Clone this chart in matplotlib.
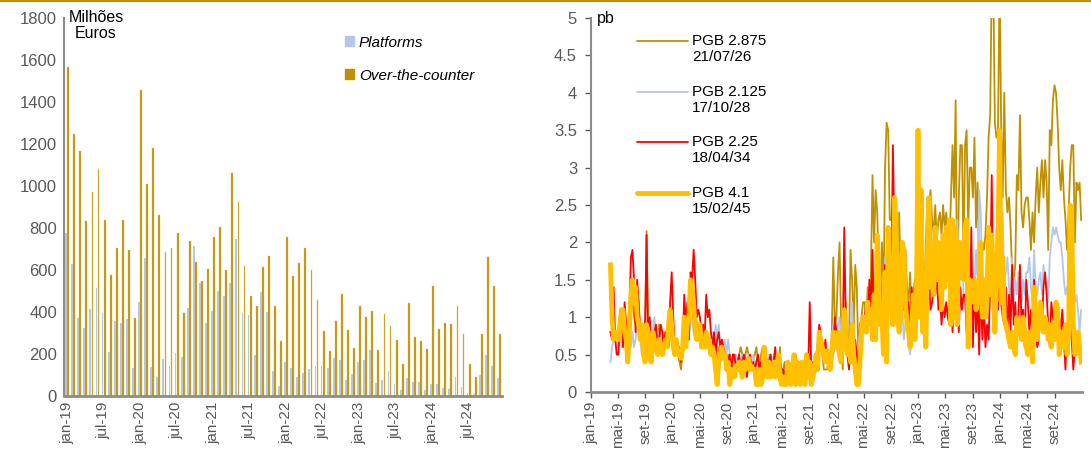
import matplotlib
matplotlib.use("Agg")
import matplotlib.pyplot as plt
from matplotlib.patches import Patch
from matplotlib.lines import Line2D
import numpy as np
import pandas as pd

plt.rcParams['font.family'] = ['Liberation Sans', 'DejaVu Sans']

# ---- left chart: monthly volumes (milhoes euros), jan-19 .. dez-24
platforms = [777, 630, 373, 322, 412, 514, 393, 209, 355, 346, 368, 135,
             449, 655, 136, 90, 174, 144, 203, 186, 417, 714, 539, 349,
             403, 498, 474, 536, 750, 395, 385, 197, 496, 400, 119, 48,
             160, 133, 89, 108, 130, 141, 143, 132, 179, 170, 78, 105,
             163, 170, 217, 60, 75, 117, 55, 27, 84, 65, 65, 27,
             57, 57, 38, 32, 89, 43, 14, 11, 98, 193, 144, 84]
otc = [1567, 1248, 1167, 833, 970, 1082, 840, 574, 706, 840, 693, 370,
       1459, 1010, 1183, 864, 687, 707, 774, 396, 736, 636, 550, 603,
       756, 807, 600, 1062, 923, 620, 474, 427, 612, 669, 427, 263,
       755, 572, 634, 703, 601, 455, 308, 212, 355, 488, 314, 230,
       427, 374, 404, 217, 389, 335, 268, 151, 442, 281, 260, 224,
       525, 320, 347, 344, 430, 293, 154, 89, 297, 660, 522, 293]
month_labels = ['jan-19', 'jul-19', 'jan-20', 'jul-20', 'jan-21', 'jul-21',
                'jan-22', 'jul-22', 'jan-23', 'jul-23', 'jan-24', 'jul-24']

# ---- right chart: weekly bid-ask spreads (pb), from 29/03/2019
start_date = '2019-03-29'
pgb_2875 = [0.8, 0.75, 0.7, 0.8, 0.7,
            0.7, 0.8, 1.0, 0.7, 0.9, 0.8, 0.6, 0.9, 1.1, 1.2, 1.0, 0.9, 1.1, 0.9, 0.7, 0.8, 0.7,
            0.7, 2.15, 0.8, 0.7, 0.6, 0.7, 0.9, 0.8, 0.6, 0.9, 0.7, 0.6, 0.8, 0.7, 0.6, 0.8, 0.9, 0.8,
            0.7, 0.6, 0.6, 0.5, 0.4, 0.3, 0.6, 0.8, 0.6, 0.8, 0.9, 1.2, 1.1, 1.0, 1.2, 0.8, 0.7,
            0.8, 0.7, 0.9, 0.6, 0.8, 0.7, 0.6, 0.5, 0.7, 0.6, 0.5, 0.4, 0.6, 0.5, 0.7, 0.5, 0.4, 0.4,
            0.5, 0.4, 0.3, 0.5, 0.4, 0.3, 0.4, 0.5, 0.6, 0.5, 0.4, 0.5, 0.6, 0.5, 0.4, 0.3, 0.4,
            0.5, 0.6, 0.4, 0.3, 0.5, 0.6, 0.4, 0.5, 0.3, 0.4, 0.5, 0.4, 0.3, 0.4, 0.5, 0.3, 0.6, 0.2,
            0.3, 0.4, 0.2, 0.3, 0.4, 0.3, 0.2, 0.4, 0.3, 0.2, 0.3, 0.4, 0.2, 0.3, 0.4, 0.3, 0.5,
            0.5, 0.3, 0.4, 0.3, 0.4, 0.5, 0.8, 0.6, 0.5, 0.3, 0.3, 0.3, 0.4, 0.5, 0.7, 1.8, 0.9,
            1.0, 1.6, 2.0, 0.9, 0.3, 0.8, 1.2, 0.7, 0.6, 1.9, 1.5, 0.8, 1.7, 1.4, 0.5, 0.9, 1.0, 1.2,
            1.2, 1.0, 1.4, 1.1, 1.6, 2.9, 2.0, 2.7, 2.4, 1.6, 1.3, 2.0, 1.2, 3.0, 3.6, 3.5, 2.3,
            2.3, 2.5, 1.8, 2.2, 1.6, 2.4, 1.5, 1.3, 1.6, 1.9, 1.4, 1.2, 1.6, 1.0, 1.3, 1.5, 1.4, 3.4,
            1.5, 1.8, 1.6, 1.3, 2.0, 2.6, 2.5, 2.7, 2.3, 2.1, 2.5, 2.0, 2.3, 2.4, 2.1, 2.5, 2.2,
            2.4, 2.1, 1.9, 2.6, 3.3, 2.6, 3.9, 1.0, 2.6, 3.3, 3.3, 1.8, 3.3, 3.5, 2.2, 3.0, 3.0,
            2.6, 3.4, 2.2, 2.8, 1.6, 1.8, 2.0, 1.9, 2.1, 2.6, 3.4, 3.7, 5.5, 5.5, 3.6, 3.4, 3.5, 5.5,
            3.6, 2.6, 4.0, 2.7, 2.4, 2.6, 2.2, 1.6, 1.5, 1.7, 2.9, 2.7, 3.7, 2.4, 2.2, 2.5, 2.6,
            2.6, 2.3, 1.9, 2.4, 2.0, 2.6, 3.0, 2.4, 2.8, 3.1, 2.6, 3.1, 2.8, 1.9, 3.5, 3.3, 3.9, 4.1,
            4.0, 3.6, 3.0, 2.7, 3.1, 2.6, 2.3, 1.9, 2.4, 3.0, 3.3, 3.3, 2.0, 2.8, 2.7, 2.8, 2.3]
pgb_2125 = [0.4, 0.6, 0.7, 0.7, 0.6,
            0.7, 0.8, 0.6, 0.7, 0.9, 0.6, 0.7, 0.8, 0.6, 0.8, 0.6, 0.7, 0.9, 0.8, 0.7, 0.5, 0.6,
            0.6, 0.9, 1.0, 0.7, 0.6, 0.8, 1.0, 0.7, 0.6, 0.8, 0.7, 0.5, 0.7, 0.6, 0.8, 0.6, 0.7, 0.8,
            0.7, 0.6, 0.5, 0.6, 0.5, 0.5, 0.6, 0.7, 0.6, 0.8, 0.7, 0.9, 1.0, 0.8, 0.9, 0.7, 0.8,
            0.8, 0.7, 0.8, 0.6, 0.7, 0.6, 0.7, 0.6, 0.8, 0.6, 0.9, 0.7, 0.9, 0.6, 0.7, 0.6, 0.7, 0.5,
            0.7, 0.5, 0.4, 0.3, 0.4, 0.5, 0.3, 0.4, 0.3, 0.5, 0.4, 0.3, 0.4, 0.5, 0.4, 0.3, 0.5,
            0.4, 0.3, 0.5, 0.4, 0.3, 0.4, 0.5, 0.3, 0.4, 0.5, 0.3, 0.4, 0.5, 0.3, 0.4, 0.3, 0.4, 0.3,
            0.3, 0.2, 0.4, 0.3, 0.2, 0.3, 0.4, 0.2, 0.3, 0.4, 0.2, 0.3, 0.2, 0.4, 0.3, 0.2, 0.4,
            0.3, 0.2, 0.4, 0.3, 0.5, 0.4, 0.7, 0.6, 0.5, 0.4, 0.6, 0.5, 0.4, 0.3, 0.5, 0.9, 0.7,
            0.7, 0.9, 1.0, 0.6, 0.5, 0.8, 1.1, 0.7, 0.6, 0.8, 1.2, 0.6, 0.5, 0.4, 0.6, 0.8, 1.0, 0.9,
            1.0, 0.9, 1.2, 1.0, 1.3, 1.4, 1.1, 1.6, 1.4, 1.2, 1.1, 1.5, 0.9, 1.8, 1.2, 1.5, 1.3,
            1.3, 1.8, 1.6, 1.4, 1.2, 0.8, 1.0, 1.1, 0.7, 0.9, 1.1, 0.6, 0.5, 0.7, 1.0, 0.8, 1.0, 2.0,
            1.1, 1.4, 1.5, 1.2, 1.4, 1.6, 1.9, 1.3, 1.7, 2.2, 1.6, 1.8, 1.4, 1.9, 1.5, 1.7, 2.0,
            1.7, 1.5, 1.6, 1.9, 1.4, 2.1, 1.2, 2.3, 1.8, 1.5, 2.0, 1.3, 1.2, 1.5, 1.6, 1.4, 1.8,
            1.6, 1.3, 1.9, 1.5, 2.7, 2.4, 1.3, 1.5, 1.2, 1.8, 1.4, 1.6, 2.0, 1.7, 1.4, 2.2, 1.8, 2.6,
            2.0, 2.4, 1.5, 1.6, 1.8, 1.4, 1.2, 1.8, 1.2, 1.5, 1.3, 1.6, 1.4, 1.2, 1.5, 1.3, 1.6,
            1.6, 1.8, 1.4, 1.2, 1.9, 1.4, 1.3, 1.5, 1.6, 1.3, 1.7, 1.5, 1.4, 1.2, 1.8, 2.0, 2.2, 2.1,
            2.2, 2.1, 2.0, 2.0, 1.8, 1.5, 1.3, 1.4, 1.3, 1.4, 1.3, 1.3, 1.2, 1.3, 1.1, 0.8, 1.1]
pgb_225 = [0.8, 0.7, 1.4, 0.7, 0.5,
           0.5, 0.9, 1.1, 0.6, 1.2, 0.9, 0.6, 1.0, 1.8, 1.9, 1.5, 0.8, 1.5, 1.2, 0.8, 0.7, 0.6,
           0.8, 2.1, 0.6, 1.0, 0.7, 0.5, 0.8, 0.9, 0.6, 0.7, 0.9, 0.8, 0.5, 0.8, 0.7, 0.6, 1.2, 1.6,
           1.0, 0.6, 0.7, 0.5, 0.6, 0.4, 0.6, 1.3, 0.9, 1.2, 0.7, 1.6, 1.5, 1.9, 1.5, 1.0, 1.1,
           1.0, 0.8, 0.9, 0.7, 1.3, 1.0, 1.1, 0.8, 0.6, 0.8, 0.5, 0.7, 0.8, 0.6, 0.7, 0.6, 0.5, 0.3,
           0.4, 0.5, 0.3, 0.5, 0.5, 0.3, 0.4, 0.5, 0.3, 0.4, 0.5, 0.4, 0.2, 0.4, 0.5, 0.3, 0.4,
           0.3, 0.4, 0.5, 0.3, 0.4, 0.2, 0.4, 0.5, 0.3, 0.4, 0.5, 0.2, 0.4, 0.6, 0.3, 0.5, 0.4, 0.3,
           0.3, 0.2, 0.4, 0.3, 0.1, 0.3, 0.4, 0.2, 0.5, 0.3, 0.2, 0.4, 0.3, 0.1, 0.3, 0.4, 0.3,
           1.2, 0.3, 0.4, 0.3, 0.5, 0.6, 0.9, 0.8, 0.6, 0.5, 0.7, 0.4, 0.5, 0.3, 0.6, 0.5, 1.0,
           0.8, 0.5, 0.7, 0.4, 0.6, 2.2, 0.9, 0.5, 0.3, 0.6, 0.8, 0.4, 0.7, 0.5, 0.2, 0.6, 0.9, 1.0,
           1.0, 1.2, 0.8, 1.5, 1.1, 1.9, 0.9, 1.2, 1.6, 1.3, 1.5, 1.0, 0.8, 1.7, 0.9, 1.2, 1.5,
           1.4, 3.3, 2.1, 1.2, 1.5, 1.0, 1.3, 1.4, 1.1, 1.6, 1.0, 1.2, 0.9, 1.4, 1.0, 1.3, 0.9, 2.5,
           1.0, 1.3, 0.8, 1.3, 0.9, 1.2, 1.5, 1.1, 1.2, 1.4, 1.3, 1.6, 1.1, 1.3, 0.9, 1.2, 1.0,
           1.2, 1.0, 0.9, 1.5, 0.8, 1.3, 1.1, 1.4, 0.8, 1.4, 1.1, 1.3, 1.3, 0.8, 0.6, 1.0, 2.2,
           0.6, 1.5, 0.8, 1.3, 0.5, 1.5, 0.7, 1.2, 0.6, 0.9, 0.7, 1.4, 2.9, 1.0, 1.8, 1.2, 1.1, 2.6,
           1.2, 1.0, 0.9, 1.4, 0.8, 1.3, 0.8, 1.7, 0.9, 1.2, 0.7, 1.0, 1.7, 0.9, 1.1, 0.6, 1.5,
           1.2, 0.8, 1.1, 0.7, 1.5, 0.8, 0.6, 0.7, 1.1, 0.9, 1.4, 1.6, 1.3, 0.9, 0.6, 1.2, 1.0, 0.9,
           1.2, 0.9, 1.0, 0.8, 1.1, 0.7, 0.3, 0.9, 0.6, 1.0, 0.7, 0.3, 0.6, 0.7, 0.5, 0.6, 0.5]
pgb_41 = [1.7, 1.0, 0.7, 0.75, 0.8,
          0.7, 0.9, 1.1, 1.1, 0.8, 0.7, 0.4, 0.8, 1.3, 1.5, 1.2, 1.4, 1.0, 0.9, 0.7, 0.9, 0.5,
          0.4, 0.9, 0.8, 0.45, 0.4, 0.8, 0.7, 0.6, 0.5, 0.7, 0.6, 0.5, 0.6, 0.7, 0.6, 0.9, 1.1, 0.9,
          0.6, 0.5, 0.7, 0.5, 0.5, 0.45, 0.6, 1.0, 0.6, 0.9, 1.0, 1.5, 1.4, 1.2, 0.8, 0.7, 0.9,
          0.9, 0.6, 0.7, 0.6, 0.8, 0.6, 0.7, 0.5, 0.6, 0.5, 0.3, 0.1, 0.4, 0.5, 0.6, 0.45, 0.5, 0.3,
          0.4, 0.1, 0.3, 0.3, 0.2, 0.35, 0.3, 0.4, 0.3, 0.2, 0.4, 0.3, 0.4, 0.45, 0.3, 0.35, 0.3,
          0.3, 0.1, 0.1, 0.3, 0.1, 0.2, 0.6, 0.3, 0.2, 0.4, 0.2, 0.3, 0.4, 0.2, 0.3, 0.5, 0.2, 0.1,
          0.2, 0.1, 0.1, 0.4, 0.2, 0.1, 0.3, 0.5, 0.1, 0.4, 0.2, 0.1, 0.4, 0.3, 0.1, 0.5, 0.2,
          0.4, 0.1, 0.2, 0.3, 0.5, 0.3, 0.8, 0.7, 0.6, 0.5, 0.4, 0.55, 0.4, 0.3, 0.5, 0.8, 0.7,
          0.6, 0.8, 0.5, 0.4, 0.7, 1.1, 0.8, 0.5, 0.6, 0.4, 0.9, 0.5, 0.3, 0.1, 0.1, 0.4, 0.8, 1.0,
          1.0, 0.8, 1.2, 0.9, 1.1, 0.7, 1.3, 0.7, 2.1, 1.5, 0.9, 1.0, 0.5, 1.6, 0.4, 2.2, 1.3,
          1.3, 0.9, 2.6, 2.3, 1.0, 0.8, 1.1, 2.0, 1.9, 1.2, 0.9, 0.8, 0.6, 0.9, 1.3, 0.7, 1.2, 3.5,
          1.0, 2.7, 0.8, 1.6, 0.6, 1.8, 2.6, 1.4, 1.9, 1.3, 2.2, 1.5, 2.0, 1.6, 1.1, 2.1, 1.4,
          2.2, 1.5, 2.3, 0.9, 2.3, 1.0, 2.2, 0.9, 2.0, 1.8, 2.0, 1.5, 2.2, 2.3, 0.6, 1.5, 1.2,
          1.3, 1.5, 1.1, 1.4, 1.2, 2.0, 1.0, 1.5, 1.0, 1.2, 2.2, 1.3, 2.1, 1.6, 0.8, 1.6, 2.0, 3.5,
          1.2, 1.8, 1.0, 0.9, 0.8, 0.7, 0.6, 0.8, 0.6, 0.5, 1.0, 0.8, 0.9, 0.7, 1.0, 0.8, 0.6,
          0.5, 0.8, 0.6, 0.4, 1.4, 0.9, 0.7, 1.0, 1.2, 0.9, 0.8, 1.0, 0.9, 0.7, 0.9, 0.6, 0.9, 0.7,
          1.2, 1.1, 0.5, 0.8, 0.7, 0.6, 0.9, 0.5, 0.8, 2.5, 2.3, 0.9, 0.5, 0.6, 0.8, 0.6, 0.4]
series_names = ['PGB 2.875', 'PGB 2.125', 'PGB 2.25', 'PGB 4.1']
series_dates = ['21/07/26', '17/10/28', '18/04/34', '15/02/45']
pt_months = ['jan', 'mai', 'set']

grey = '#595959'
spine_grey = '#8c8c8c'

fig = plt.figure(figsize=(10.91, 4.5), dpi=100)
fig.add_artist(Line2D([0, 1], [0.998, 0.998], color='#C09000', lw=1.5,
                      transform=fig.transFigure))

# ---------------- left chart
ax1 = fig.add_axes([0.0587, 0.12, 0.4015, 0.84])
x = np.arange(len(otc))
ax1.bar(x - 0.17, platforms, width=0.3, color='#B4C7E7', label='Platforms')
ax1.bar(x + 0.17, otc, width=0.3, color='#BF9000', edgecolor='#E3C46A',
        linewidth=0.3, label='Over-the-counter')
ax1.set_xlim(-0.5, len(otc) - 0.5)
ax1.set_ylim(0, 1800)
ax1.set_yticks(range(0, 1801, 200))
ax1.set_xticks(x[::6])
ax1.set_xticklabels(month_labels, rotation=90)
for s in ['top', 'right']:
    ax1.spines[s].set_visible(False)
ax1.spines['left'].set_color(spine_grey)
ax1.spines['left'].set_linewidth(1.5)
ax1.spines['bottom'].set_color(spine_grey)
ax1.spines['bottom'].set_linewidth(2)
ax1.tick_params(axis='both', length=0, colors=grey)
ax1.tick_params(axis='y', labelsize=12, pad=5)
ax1.tick_params(axis='x', labelsize=11, pad=4)
ax1.text(0.01, 1.0, 'Milhões', transform=ax1.transAxes, fontsize=11.5,
         va='center', ha='left')
ax1.text(0.025, 1.0 - 16 / 378, 'Euros', transform=ax1.transAxes, fontsize=11.5,
         va='center', ha='left')
handles = [Patch(color='#B4C7E7'), Patch(color='#BF9000')]
leg1 = ax1.legend(handles, ['Platforms', 'Over-the-counter'], loc='upper left',
                  bbox_to_anchor=(0.61, 0.99), frameon=False, fontsize=11,
                  handlelength=0.6, handleheight=0.6, handletextpad=0.3,
                  labelspacing=1.25)
for t in leg1.get_texts():
    t.set_fontstyle('italic')

# ---------------- right chart
ax2 = fig.add_axes([0.5417, 0.1289, 0.4501, 0.8311])
styles = [('#BF9000', 1.3), ('#B4C7E7', 1.3), ('#FF0000', 1.3), ('#FFC000', 3.5)]
for vals, (c, lw) in zip([pgb_2875, pgb_2125, pgb_225, pgb_41], styles):
    dates = pd.date_range(start_date, periods=len(vals), freq='7D')
    ax2.plot(dates, vals, color=c, lw=lw, solid_joinstyle='round')

ax2.set_ylim(0, 5)
ax2.set_yticks(np.arange(0, 5.01, 0.5))
ax2.set_yticklabels(['%g' % v for v in np.arange(0, 5.01, 0.5)])
tick_dates = [pd.Timestamp(y, m, 1) for y in range(2019, 2025) for m in (1, 5, 9)]
tick_labels = ['%s-%02d' % (pt_months[i % 3], 19 + i // 3) for i in range(len(tick_dates))]
ax2.set_xticks(tick_dates)
ax2.set_xticklabels(tick_labels, rotation=90)
ax2.set_xlim(pd.Timestamp(2019, 1, 1), pd.Timestamp(2024, 12, 31))
for s in ['top', 'right']:
    ax2.spines[s].set_visible(False)
ax2.spines['left'].set_color(spine_grey)
ax2.spines['left'].set_linewidth(1.5)
ax2.spines['bottom'].set_color(spine_grey)
ax2.spines['bottom'].set_linewidth(2)
ax2.tick_params(axis='both', colors=grey, direction='out', length=4, width=1)
ax2.tick_params(axis='x', labelsize=11, pad=3)
ax2.tick_params(axis='y', labelsize=12, pad=6)
ax2.text(0.012, 1.0, 'pb', transform=ax2.transAxes, fontsize=11.5,
         va='center', ha='left')

# legend: sample line level with the first text line, as in the source chart
row_step = 50.7 / 374
for i, (name, dt, (c, lw)) in enumerate(zip(series_names, series_dates, styles)):
    yy = 0.9385 - i * row_step
    ax2.add_line(Line2D([0.0937, 0.1976], [yy, yy], color=c, lw=lw,
                        transform=ax2.transAxes, solid_capstyle='round'))
    ax2.text(0.2057, yy, name, transform=ax2.transAxes, fontsize=11,
             va='center', ha='left')
    ax2.text(0.2057, yy - 16 / 374, dt, transform=ax2.transAxes, fontsize=11,
             va='center', ha='left')

fig.savefig('out.png', dpi=100)
